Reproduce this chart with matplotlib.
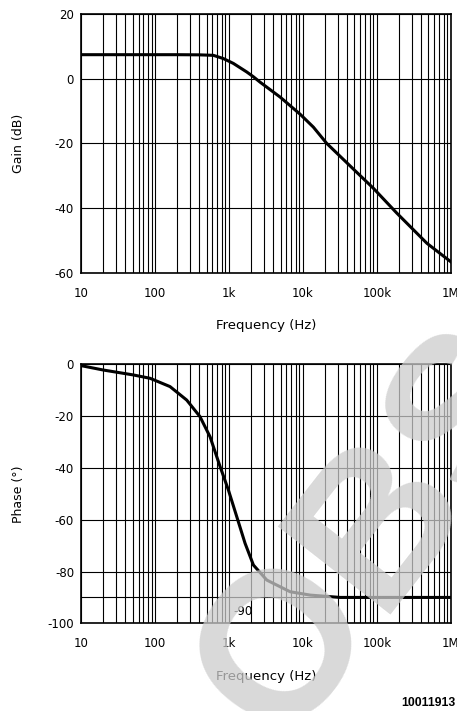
import matplotlib
matplotlib.use('Agg')
import matplotlib.pyplot as plt
import numpy as np

# values
freq_gain = [10, 50, 100, 200, 400, 617, 843, 1151, 1746, 2140, 2644, 4930,
             9190, 13900, 21000, 50000, 90000, 187000, 476000, 1000000]
gain = [7.4, 7.4, 7.4, 7.4, 7.35, 7.2, 6.2, 4.7, 2.05, 0.6, -1.1, -5.7,
        -11.0, -15.0, -20.0, -28.3, -33.9, -41.6, -50.9, -56.6]

freq_phase = [10, 20, 51, 86, 160, 269, 407, 557, 761, 985, 1278, 1656,
              2148, 3258, 6730, 12600, 32000, 100000, 1000000]
phase = [-0.5, -2.2, -4.1, -5.4, -8.6, -13.8, -20.2, -28.0, -39.5, -48.5,
         -58.8, -69.1, -77.5, -83.3, -87.8, -89.1, -90.0, -90.0, -90.0]

xticks = [10, 100, 1e3, 1e4, 1e5, 1e6]
xlabels = ['10', '100', '1k', '10k', '100k', '1M']
gain_ticks = [20, 0, -20, -40, -60]
phase_ticks = [0, -20, -40, -60, -80, -100]

plt.rcParams['font.family'] = ['DejaVu Sans']
plt.rcParams['font.size'] = 8.5
plt.rcParams['axes.unicode_minus'] = False

fig = plt.figure(figsize=(4.57, 7.11), dpi=100)
ax1 = fig.add_axes([0.1772, 0.6165, 0.809, 0.3639])
ax2 = fig.add_axes([0.1772, 0.1233, 0.809, 0.3643])

minor = [m * 10**d for d in range(1, 6) for m in range(2, 10)]

for ax in (ax1, ax2):
    ax.set_xscale('log')
    ax.set_xlim(10, 1e6)
    ax.set_xticks(xticks)
    ax.set_xticklabels(xlabels)
    ax.set_xticks(minor, minor=True)
    ax.xaxis.set_minor_formatter(plt.NullFormatter())
    ax.tick_params(which='both', length=0)
    ax.tick_params(axis='x', pad=10)
    ax.tick_params(axis='y', pad=5)
    ax.grid(True, which='both', axis='x', color='black', lw=0.8)
    ax.grid(True, which='major', axis='y', color='black', lw=0.8)
    for s in ax.spines.values():
        s.set_linewidth(1.2)
    ax.set_xlabel('Frequency (Hz)', labelpad=14, fontsize=9.5)

ax1.plot(freq_gain, gain, color='black', lw=2.2)
ax1.set_ylim(-60, 20)
ax1.set_yticks(gain_ticks)
ax1.set_ylabel('Gain (dB)', fontsize=9)
ax1.yaxis.set_label_coords(-0.152, 0.5)

ax2.plot(freq_phase, phase, color='black', lw=2.2)
ax2.axhline(-90, color='black', lw=0.8)
ax2.set_ylim(-100, 0)
ax2.set_yticks(phase_ticks)
ax2.set_ylabel('Phase (°)', fontsize=9)
ax2.yaxis.set_label_coords(-0.152, 0.5)
ax2.text(1150, -95.5, '-90', ha='left', va='center')

fig.text(0.997, 0.011, '10011913', ha='right', va='center', fontsize=8.8,
         fontweight='bold', family='Liberation Sans')

# OBS watermark
fig.text(0.823, 0.2475, 'OBS', ha='center', va='center', rotation=52,
         rotation_mode='anchor', fontsize=150, fontweight='bold',
         family='Liberation Sans', color='#cccccc', alpha=0.75, zorder=10)

fig.savefig('out.png', dpi=100)
